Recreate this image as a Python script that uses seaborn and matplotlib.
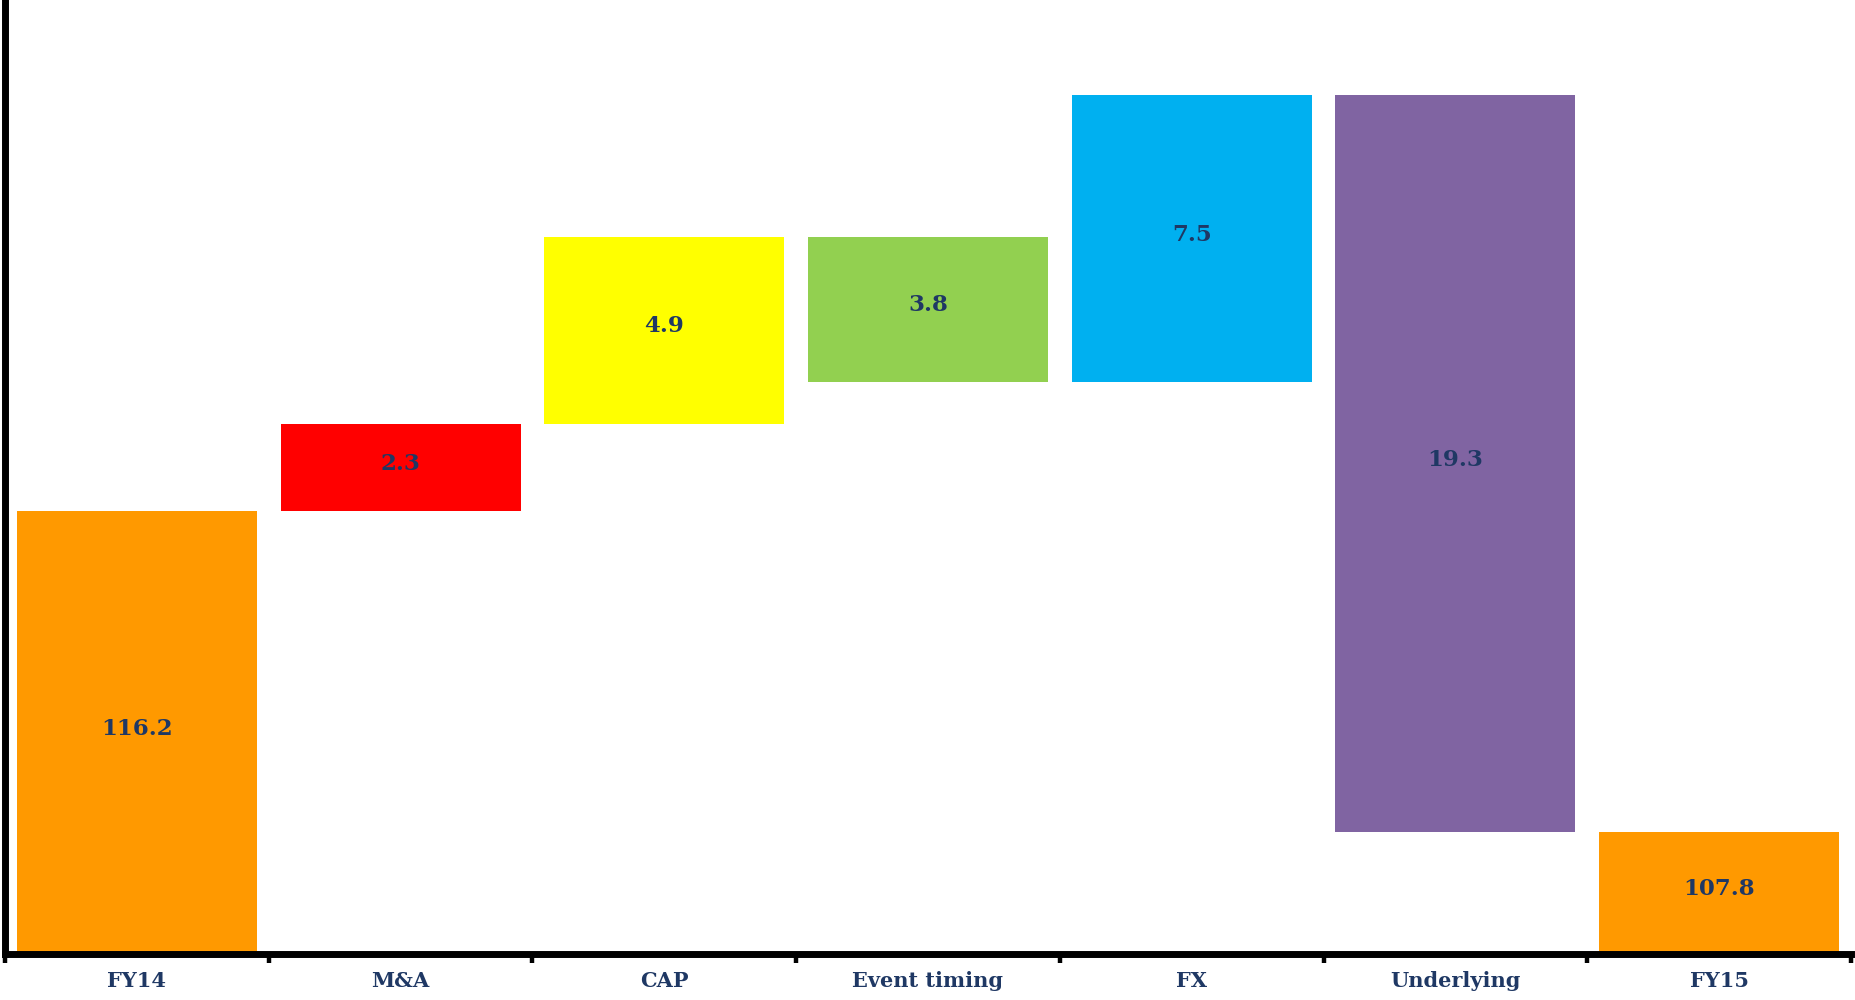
import numpy as np
import pandas as pd
import matplotlib
matplotlib.use("Agg")
import matplotlib.pyplot as plt
import seaborn as sns

# waterfall data
categories = ["FY14", "M&A", "CAP", "Event timing", "FX", "Underlying", "FY15"]
start_value = 116.2
deltas = [2.3, 4.9, -3.8, 7.5, -19.3]
end_value = 107.8
bar_colors = ["#FF9900", "#FF0000", "#FFFF00", "#92D050", "#00B0F0", "#8064A2", "#FF9900"]

# build bottoms / heights from the running total
level = np.concatenate([[start_value], start_value + np.cumsum(deltas)])
bottoms = [0.0] + list(np.minimum(level[:-1], level[1:])) + [0.0]
heights = [start_value] + [abs(d) for d in deltas] + [end_value]
labels = [start_value] + [abs(d) for d in deltas] + [end_value]

df = pd.DataFrame({"category": categories, "height": heights, "bottom": bottoms})

sns.set_theme(style="white")
plt.rcParams["font.family"] = ["DejaVu Serif"]

fig = plt.figure(figsize=(18.56, 10), dpi=100)
ax = fig.add_axes([5 / 1856, 0.046, 1846 / 1856, 0.954])

# single bar call so bottoms line up with categories, then recolour each bar
sns.barplot(data=df, x="category", y="height", order=categories, width=0.91,
            bottom=df["bottom"].values, ax=ax, color="#888888", saturation=1,
            edgecolor="none", errorbar=None)
for patch, c in zip(ax.patches, bar_colors):
    patch.set_facecolor(c)

ax.set_ylim(104.6, 129.6)

text_color = "#1F3864"
for i, (b, h, v) in enumerate(zip(bottoms, heights, labels)):
    y_lo = max(b, 104.6)
    ax.text(i, (y_lo + b + h) / 2 + 0.1, f"{v:.1f}", ha="center", va="center",
            fontsize=16.5, fontweight="bold", color=text_color)

ax.set_xlim(-0.5, len(categories) - 0.5)
ax.set_xlabel("")
ax.set_ylabel("")
ax.set_yticks([])

ax.set_xticks(range(len(categories)))
ax.set_xticklabels(categories, fontsize=15, fontweight="bold", color=text_color)
ax.set_xticks(np.arange(-0.5, len(categories)), minor=True)
ax.tick_params(axis="x", which="major", length=0, pad=12)
ax.tick_params(axis="x", which="minor", length=6.5, width=3.2, direction="out", color="black", bottom=True)

for side in ["top", "right"]:
    ax.spines[side].set_visible(False)
ax.spines["left"].set_linewidth(5)
ax.spines["bottom"].set_linewidth(5)
ax.spines["left"].set_color("black")
ax.spines["bottom"].set_color("black")

fig.savefig("out.png", dpi=100)
